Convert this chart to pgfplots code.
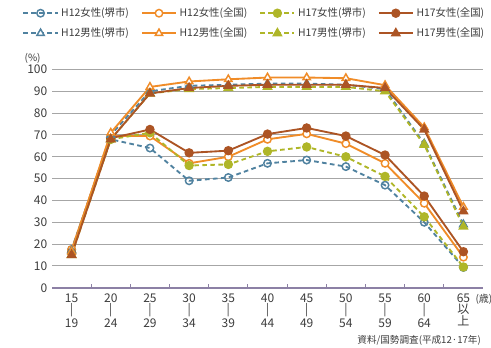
\documentclass[border=0pt]{standalone}
\usepackage{pgfplots}
\pgfplotsset{compat=1.18}
\usepackage{fontspec}
\setmainfont{Noto Sans CJK JP}
\definecolor{cblue}{RGB}{80,130,160}
\definecolor{corange}{RGB}{240,140,40}
\definecolor{colive}{RGB}{175,182,40}
\definecolor{cbrown}{RGB}{172,84,36}
\definecolor{ctext}{RGB}{60,60,60}
\definecolor{cbase}{RGB}{140,128,165}
\begin{document}
\begin{tikzpicture}
\useasboundingbox (-39pt,-44.5pt) rectangle (329.25pt,215.8pt);
\begin{axis}[
  at={(0,0)}, anchor=south west,
  scale only axis, width=323.25pt, height=163.7pt,
  xmin=-0.5, xmax=10.5, ymin=0, ymax=100,
  axis line style={draw=none},
  axis x line*=bottom,
  ytick={0,10,...,100},
  ymajorgrids, grid style={color=gray!70, line width=0.8pt},
  xtick={0,...,10},
  xticklabels={{15\\|\\19},{20\\|\\24},{25\\|\\29},{30\\|\\34},{35\\|\\39},{40\\|\\44},{45\\|\\49},{50\\|\\54},{55\\|\\59},{60\\|\\64},{65\\以\\上}},
  minor xtick={0.5,1.5,...,9.5},
  xminorticks=true,
  major x tick style={draw=none},
  minor x tick style={color=cbase, line width=0.8pt},
  minor tick length=3pt,
  ytick style={draw=none},
  xticklabel style={align=center, font=\fontsize{9}{8.6}\selectfont, text=ctext, yshift=-1pt},
  yticklabel style={font=\fontsize{9}{9}\selectfont, text=ctext},
  /pgf/number format/assume math mode=true,
  clip=false,
  legend columns=4,
  legend style={at={(axis description cs:-0.072,1.302)}, anchor=north west, draw=none, fill=none,
    font=\fontsize{7.8}{7.8}\selectfont, text=ctext, inner sep=1pt,
    /tikz/every even column/.append style={column sep=7pt},
    row sep=3pt},
  legend image code/.code={
    \draw[#1, mark=none, line width=1.4pt] (0cm,0cm) -- (0.9cm,0cm);
    \draw[#1, solid] plot coordinates {(0.45cm,0cm)};
  },
  every axis plot/.append style={line width=1.4pt},
]
\draw[color=cbase, line width=1.2pt] (axis cs:-0.5,0) -- (axis cs:10.5,0);
% H12 female Sakai
\addplot[color=cblue, dash pattern=on 3.5pt off 2.5pt, mark=o, mark size=2.8pt, mark options={solid, fill=white, line width=1.1pt}]
 coordinates {(0,17.5)(1,68)(2,64)(3,49)(4,50.5)(5,57)(6,58.5)(7,55.5)(8,47)(9,30)(10,9.3)};
\addlegendentry{H12女性(堺市)}
% H12 female national
\addplot[color=corange, solid, mark=*, mark size=2.8pt, mark options={fill=white, line width=1.1pt}]
 coordinates {(0,17.5)(1,69.5)(2,69.5)(3,57)(4,60)(5,68)(6,70.5)(7,66)(8,57)(9,38.7)(10,14)};
\addlegendentry{H12女性(全国)}
% H17 female Sakai
\addplot[color=colive, dash pattern=on 3.5pt off 2.5pt, mark=*, mark size=2.8pt, mark options={solid, fill=colive}]
 coordinates {(0,16)(1,68)(2,71)(3,56)(4,56.5)(5,62.5)(6,64.5)(7,60)(8,51)(9,32.5)(10,9.5)};
\addlegendentry{H17女性(堺市)}
% H17 female national
\addplot[color=cbrown, solid, mark=*, mark size=2.8pt, mark options={fill=cbrown}]
 coordinates {(0,16)(1,68.5)(2,72.5)(3,61.8)(4,62.8)(5,70.4)(6,73.2)(7,69.5)(8,60.8)(9,42)(10,16.5)};
\addlegendentry{H17女性(全国)}
% H12 male Sakai
\addplot[color=cblue, dash pattern=on 3.5pt off 2.5pt, mark=triangle*, mark size=3.2pt, mark options={solid, fill=white, line width=1.1pt}]
 coordinates {(0,17)(1,70)(2,90)(3,92.5)(4,93)(5,93.5)(6,93.5)(7,93)(8,91)(9,66)(10,29)};
\addlegendentry{H12男性(堺市)}
% H12 male national
\addplot[color=corange, solid, mark=triangle*, mark size=3.2pt, mark options={fill=white, line width=1.1pt}]
 coordinates {(0,16.5)(1,71)(2,92)(3,94.5)(4,95.5)(5,96.3)(6,96.3)(7,96)(8,92.8)(9,73.5)(10,37)};
\addlegendentry{H12男性(全国)}
% H17 male Sakai
\addplot[color=colive, dash pattern=on 3.5pt off 2.5pt, mark=triangle*, mark size=3.2pt, mark options={solid, fill=colive}]
 coordinates {(0,15)(1,68)(2,89)(3,91)(4,91.5)(5,92)(6,92)(7,92)(8,90)(9,65.5)(10,28)};
\addlegendentry{H17男性(堺市)}
% H17 male national
\addplot[color=cbrown, solid, mark=triangle*, mark size=3.2pt, mark options={fill=cbrown}]
 coordinates {(0,15)(1,68)(2,89)(3,91.5)(4,92.5)(5,93)(6,93)(7,93)(8,91.5)(9,72.5)(10,35)};
\addlegendentry{H17男性(全国)}
\node[anchor=center, font=\fontsize{7.5}{7.5}\selectfont, text=ctext] at (axis description cs:-0.045,1.052) {(\%)};
\node[anchor=west, font=\fontsize{7.5}{7.5}\selectfont, text=ctext, inner sep=0pt] at (axis description cs:0.982,-0.052) {(歳)};
\node[anchor=west, font=\fontsize{7.2}{7.2}\selectfont, text=ctext, inner sep=0pt] at (axis description cs:0.708,-0.243) {資料/国勢調査(平成12·17年)};
\end{axis}
\end{tikzpicture}
\end{document}
